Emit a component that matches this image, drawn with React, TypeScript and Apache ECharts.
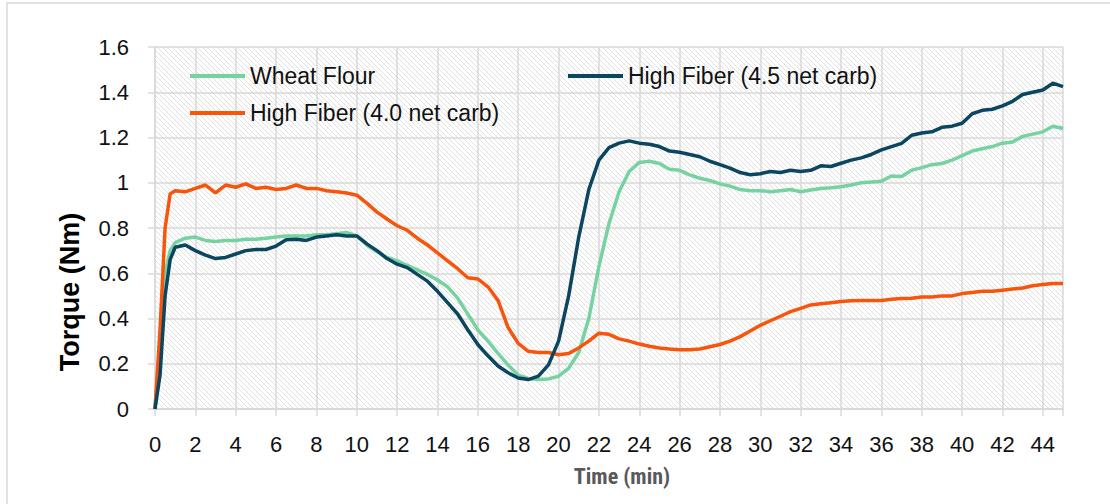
import React, { useEffect, useRef } from "react";
import * as echarts from "echarts";

const time = [
  0, 0.25, 0.5, 0.75, 1, 1.5, 2, 2.5, 3, 3.5, 4, 4.5, 5, 5.5, 6, 6.5, 7, 7.5, 8, 8.5,
  9, 9.5, 10, 10.5, 11, 11.5, 12, 12.5, 13, 13.5, 14, 14.5, 15, 15.5, 16, 16.5, 17, 17.5,
  18, 18.5, 19, 19.5, 20, 20.5, 21, 21.5, 22, 22.5, 23, 23.5, 24, 24.5, 25, 25.5, 26, 26.5,
  27, 27.5, 28, 28.5, 29, 29.5, 30, 30.5, 31, 31.5, 32, 32.5, 33, 33.5, 34, 34.5, 35, 35.5,
  36, 36.5, 37, 37.5, 38, 38.5, 39, 39.5, 40, 40.5, 41, 41.5, 42, 42.5, 43, 43.5, 44, 44.5, 45,
];

const wheatFlour = [
  0, 0.3, 0.6, 0.7, 0.735, 0.755, 0.76, 0.745, 0.74, 0.745, 0.745, 0.75, 0.75, 0.755, 0.76,
  0.765, 0.765, 0.765, 0.77, 0.77, 0.775, 0.78, 0.765, 0.725, 0.695, 0.67, 0.655, 0.635,
  0.615, 0.595, 0.57, 0.54, 0.49, 0.42, 0.35, 0.3, 0.246, 0.195, 0.15, 0.135, 0.13, 0.133,
  0.145, 0.18, 0.25, 0.4, 0.63, 0.82, 0.96, 1.05, 1.09, 1.095, 1.085, 1.06, 1.055, 1.035,
  1.02, 1.01, 0.995, 0.985, 0.97, 0.965, 0.965, 0.96, 0.965, 0.97, 0.96, 0.968, 0.975,
  0.978, 0.982, 0.99, 1.0, 1.003, 1.007, 1.03, 1.028, 1.055, 1.067, 1.08, 1.085, 1.1, 1.12,
  1.14, 1.15, 1.16, 1.175, 1.18, 1.205, 1.215, 1.225, 1.25, 1.24,
];

const highFiber45 = [
  0, 0.15, 0.5, 0.66, 0.715, 0.725, 0.7, 0.68, 0.665, 0.67, 0.685, 0.7, 0.705, 0.705, 0.72,
  0.748, 0.75, 0.745, 0.76, 0.765, 0.77, 0.765, 0.765, 0.73, 0.7, 0.665, 0.64, 0.625, 0.595,
  0.565, 0.52, 0.47, 0.42, 0.35, 0.285, 0.235, 0.19, 0.16, 0.137, 0.13, 0.145, 0.195, 0.3,
  0.5, 0.76, 0.97, 1.1, 1.155, 1.175, 1.185, 1.175, 1.17, 1.16, 1.14, 1.135, 1.125, 1.115,
  1.095, 1.08, 1.065, 1.045, 1.035, 1.04, 1.05, 1.045, 1.055, 1.05, 1.055, 1.075, 1.072,
  1.086, 1.1, 1.11, 1.125, 1.145, 1.16, 1.174, 1.21, 1.22, 1.225, 1.245, 1.25, 1.263, 1.305,
  1.32, 1.325, 1.34, 1.36, 1.39, 1.4, 1.41, 1.44, 1.425,
];

const highFiber40 = [
  0, 0.35, 0.8, 0.95, 0.965, 0.96, 0.975, 0.99, 0.955, 0.99, 0.98, 0.995, 0.975, 0.98, 0.97,
  0.975, 0.99, 0.975, 0.975, 0.965, 0.96, 0.955, 0.945, 0.91, 0.87, 0.84, 0.81, 0.79, 0.755,
  0.725, 0.69, 0.655, 0.62, 0.58, 0.575, 0.54, 0.48, 0.36, 0.29, 0.255, 0.25, 0.25, 0.24,
  0.245, 0.27, 0.3, 0.335, 0.33, 0.31, 0.3, 0.287, 0.277, 0.27, 0.265, 0.262, 0.262, 0.265,
  0.275, 0.285, 0.3, 0.32, 0.345, 0.37, 0.39, 0.41, 0.43, 0.445, 0.46, 0.465, 0.47, 0.475,
  0.478, 0.48, 0.48, 0.48, 0.485, 0.488, 0.49, 0.495, 0.495, 0.5, 0.5, 0.51, 0.515, 0.52,
  0.52, 0.525, 0.53, 0.535, 0.545, 0.55, 0.555, 0.555,
];

const seriesNames = ["Wheat Flour", "High Fiber (4.5 net carb)", "High Fiber (4.0 net carb)"];
const seriesColors = ["#76d3a1", "#0b4660", "#f7540c"];
const xAxisTitle = "Time (min)";
const yAxisTitle = "Torque (Nm)";

const FONT = "'Liberation Sans', Arial, sans-serif";

const hatch =
  "data:image/svg+xml;utf8," +
  encodeURIComponent(
    "<svg xmlns='http://www.w3.org/2000/svg' width='5' height='5'><rect width='5' height='5' fill='#ffffff'/><path d='M-1,-1 L6,6 M-1,4 L1,6 M4,-1 L6,1' stroke='#dcdcdc' stroke-width='0.9'/></svg>"
  );

export default function App() {
  const ref = useRef<HTMLDivElement>(null);

  useEffect(() => {
    if (!ref.current) return;
    const chart = echarts.init(ref.current, null, { renderer: "svg" });
    const pair = (vals: number[]) => time.map((t, i) => [t, vals[i]]);
    const legendBase = {
      icon: "rect",
      itemWidth: 55,
      itemHeight: 4,
      selectedMode: false,
      padding: 0,
      textStyle: { fontSize: 23, color: "#111", fontFamily: FONT, lineHeight: 24 },
    };
    chart.setOption({
      animation: false,
      backgroundColor: "#ffffff",
      grid: {
        left: 155,
        right: 47,
        top: 47,
        bottom: 95,
        show: true,
        borderWidth: 0,
        backgroundColor: { image: hatch, repeat: "repeat", imageWidth: 5, imageHeight: 5 },
      },
      legend: [
        { ...legendBase, data: [seriesNames[0]], left: 190, top: 64 },
        { ...legendBase, data: [seriesNames[1]], left: 568, top: 64 },
        { ...legendBase, data: [seriesNames[2]], left: 190, top: 101 },
      ],
      xAxis: {
        type: "value",
        min: 0,
        max: 45,
        interval: 2,
        name: xAxisTitle,
        nameLocation: "middle",
        nameGap: 56,
        nameTextStyle: {
          fontSize: 22,
          fontWeight: "bold",
          color: "#595959",
          fontFamily: "'Liberation Sans Narrow', 'Roboto Condensed', Roboto, sans-serif",
          padding: [0, 0, 0, 26],
        },
        axisLine: { show: true, lineStyle: { color: "#d9d9d9", width: 2 } },
        axisTick: { show: true, length: 7, lineStyle: { color: "#d9d9d9", width: 1.5 } },
        splitLine: { show: true, lineStyle: { color: "#d9d9d9", width: 1.5 } },
        axisLabel: {
          fontSize: 22,
          color: "#111",
          fontFamily: FONT,
          margin: 24,
          formatter: (v: number) => (v % 2 === 0 ? String(v) : ""),
        },
      },
      yAxis: {
        type: "value",
        min: 0,
        max: 1.6,
        interval: 0.2,
        axisLine: { show: true, lineStyle: { color: "#d9d9d9", width: 1.5 } },
        axisTick: { show: true, length: 7, lineStyle: { color: "#d9d9d9", width: 1.5 } },
        splitLine: { show: true, lineStyle: { color: "#d9d9d9", width: 1.5 } },
        axisLabel: {
          fontSize: 22,
          color: "#111",
          fontFamily: FONT,
          margin: 26,
          formatter: (v: number) => String(+v.toFixed(1)),
        },
      },
      graphic: [
        {
          type: "rect",
          shape: { x: 7, y: 3, width: 1200, height: 600 },
          style: { fill: "none", stroke: "#d9d9d9", lineWidth: 1.5 },
          z: 100,
          silent: true,
        },
        {
          type: "text",
          x: 70,
          y: 292,
          rotation: Math.PI / 2,
          style: {
            text: yAxisTitle,
            fontSize: 27,
            fontWeight: "bold",
            fontFamily: FONT,
            fill: "#000",
            align: "center",
            verticalAlign: "middle",
          },
        },
      ],
      series: [
        {
          name: seriesNames[0],
          type: "line",
          data: pair(wheatFlour),
          showSymbol: false,
          color: seriesColors[0],
          lineStyle: { width: 3.5, color: seriesColors[0] },
        },
        {
          name: seriesNames[2],
          type: "line",
          data: pair(highFiber40),
          showSymbol: false,
          color: seriesColors[2],
          lineStyle: { width: 3.5, color: seriesColors[2] },
        },
        {
          name: seriesNames[1],
          type: "line",
          data: pair(highFiber45),
          showSymbol: false,
          color: seriesColors[1],
          lineStyle: { width: 3.5, color: seriesColors[1] },
        },
      ],
    });
    return () => chart.dispose();
  }, []);

  return (
    <div
      ref={ref}
      style={{ position: "fixed", left: 0, top: 0, width: 1110, height: 504 }}
    />
  );
}
